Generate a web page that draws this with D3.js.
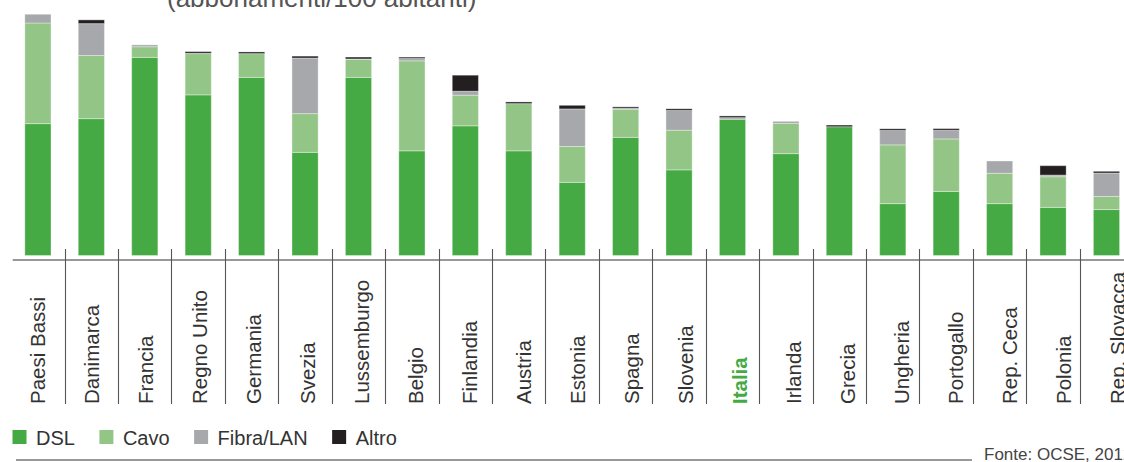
<!DOCTYPE html>
<html lang="it">
<head>
<meta charset="UTF-8">
<title>Abbonamenti banda larga</title>
<style>
    body { margin: 0; background: #fff; }
    svg { display: block; font-family: "Liberation Sans", Arial, sans-serif; }
    .lbl { font-size: 20.5px; }
</style>
</head>
<body>
<svg id="chart" width="1124" height="462"></svg>
<script src="https://d3js.org/d3.v7.min.js"></script>
<script>
// values (abbonamenti/100 abitanti)
const countries = ['Paesi Bassi', 'Danimarca', 'Francia', 'Regno Unito', 'Germania', 'Svezia',
    'Lussemburgo', 'Belgio', 'Finlandia', 'Austria', 'Estonia', 'Spagna', 'Slovenia', 'Italia',
    'Irlanda', 'Grecia', 'Ungheria', 'Portogallo', 'Rep. Ceca', 'Polonia', 'Rep. Slovacca'];
const dsl   = [21.1, 21.9, 31.7, 25.7, 28.5, 16.5, 28.5, 16.75, 20.75, 16.75, 11.7, 18.9, 13.7, 21.8, 16.3, 20.6, 8.3, 10.25, 8.3, 7.7, 7.35];
const cavo  = [16.1, 10.1, 1.7, 6.6, 3.8, 6.2, 2.9, 14.4, 4.9, 7.55, 5.75, 4.5, 6.35, 0, 4.85, 0, 9.4, 8.4, 4.85, 4.9, 2.1];
const fibra = [1.4, 5.1, 0.3, 0.05, 0, 8.9, 0.05, 0.37, 0.64, 0, 6.0, 0.16, 3.15, 0.26, 0.32, 0, 2.3, 1.38, 1.97, 0.27, 3.75];
const altro = [0, 0.6, 0, 0.27, 0.27, 0.3, 0.3, 0.22, 2.56, 0.27, 0.58, 0.22, 0.27, 0.27, 0, 0.27, 0.27, 0.27, 0, 1.5, 0.27];
const seriesNames = ['DSL', 'Cavo', 'Fibra/LAN', 'Altro'];
const colors = ['#45aa43', '#93c587', '#a7a8ab', '#231f20'];
const highlight = 'Italia';

const svg = d3.select('#chart');

const rows = countries.map((c, i) => ({
    country: c, 'DSL': dsl[i], 'Cavo': cavo[i], 'Fibra/LAN': fibra[i], 'Altro': altro[i]
}));
const stacked = d3.stack().keys(seriesNames)(rows);

const x = d3.scaleBand().domain(countries).range([11.2, 1133.2]).padding(0);
// labels drift slightly to the right of the bands in the original
const xLabel = d3.scalePoint().domain(countries).range([37.2, 1118]);
const y = d3.scaleLinear().domain([0, 40]).range([255.5, 5.5]);
const barW = x.bandwidth() * 0.49;
const color = d3.scaleOrdinal().domain(seriesNames).range(colors);

// title (cut at the top of the picture)
svg.append('text')
    .attr('x', 167).attr('y', 6.5)
    .attr('font-size', 26).attr('fill', '#555')
    .text('(abbonamenti/100 abitanti)');

// bars
svg.append('g').selectAll('g')
    .data(stacked)
    .join('g')
    .attr('fill', d => color(d.key))
    .selectAll('rect')
    .data(d => d)
    .join('rect')
    .attr('x', d => x(d.data.country) + (x.bandwidth() - barW) / 2)
    .attr('width', barW)
    .attr('y', d => y(d[1]))
    .attr('height', d => y(d[0]) - y(d[1]))
    .attr('stroke', '#fff')
    .attr('stroke-opacity', 0.35)
    .attr('stroke-width', 1);

// baseline and separators
svg.append('line')
    .attr('x1', 12.7).attr('x2', 1124)
    .attr('y1', 260).attr('y2', 260)
    .attr('stroke', '#777').attr('stroke-width', 1.6);

svg.append('g').selectAll('line')
    .data(countries.slice(1))
    .join('line')
    .attr('x1', d => Math.round(x(d)) + 0.5)
    .attr('x2', d => Math.round(x(d)) + 0.5)
    .attr('y1', 249).attr('y2', 404)
    .attr('stroke', '#555').attr('stroke-width', 1.1);

// category labels
svg.append('g').selectAll('text')
    .data(countries)
    .join('text')
    .attr('class', 'lbl')
    .attr('transform', d => `translate(${xLabel(d)},404) rotate(-90)`)
    .attr('text-anchor', 'start')
    .attr('dy', '0.36em')
    .attr('fill', d => d === highlight ? '#45aa43' : '#333')
    .attr('font-weight', d => d === highlight ? 'bold' : 'normal')
    .text(d => d);

// legend
const legend = svg.append('g').attr('transform', 'translate(12.5,430)');
let lx = 0;
seriesNames.forEach((name, i) => {
    legend.append('rect')
        .attr('x', lx).attr('y', 0)
        .attr('width', 14).attr('height', 14)
        .attr('fill', colors[i]);
    const t = legend.append('text')
        .attr('x', lx + 23.5).attr('y', 14.5)
        .attr('font-size', 20).attr('fill', '#333')
        .text(name);
    lx += 23.5 + t.node().getComputedTextLength() + 24.5;
});

// bottom rule and source
svg.append('line')
    .attr('x1', 16).attr('x2', 972)
    .attr('y1', 460).attr('y2', 460)
    .attr('stroke', '#777').attr('stroke-width', 1.5);

svg.append('text')
    .attr('x', 984).attr('y', 459.5)
    .attr('font-size', 17).attr('fill', '#444')
    .text('Fonte: OCSE, 2012');
</script>
</body>
</html>
